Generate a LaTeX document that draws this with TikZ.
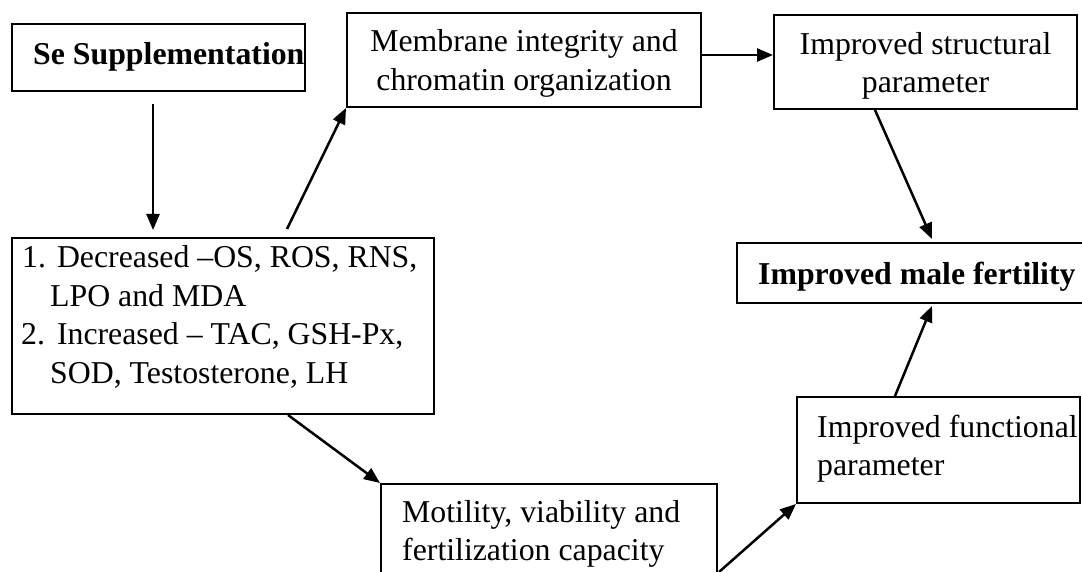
\documentclass[tikz,border=0pt]{standalone}
\usepackage{fontspec}
\setmainfont{Liberation Serif}
\usetikzlibrary{arrows.meta,calc}
\tikzset{
  box/.style={draw, line width=2pt, inner sep=0pt},
  txt/.style={inner sep=0pt, font=\fontsize{31.8}{38.5}\selectfont},
  conn/.style={line width=2.5pt, -{Triangle[length=16pt,width=13pt]}}
}
\begin{document}
\begin{tikzpicture}[x=1pt,y=1pt]
\useasboundingbox (0,0) rectangle (1082,-572);
% boxes
\node[box, minimum width=293pt, minimum height=67pt] (se) at (158.5,-57.5) {};
\node[box, minimum width=354pt, minimum height=94pt] (mem) at (524,-60) {};
\node[box, minimum width=303pt, minimum height=94pt] (str) at (925.5,-62) {};
\node[box, minimum width=357pt, minimum height=60pt] (fer) at (915.5,-273) {};
\node[box, minimum width=422pt, minimum height=176pt] (dec) at (223,-326) {};
\node[box, minimum width=336pt, minimum height=116pt] (mot) at (549,-542) {};
\node[box, minimum width=283pt, minimum height=106pt] (fun) at (938.5,-450) {};
% texts
\node[txt, anchor=base west] (set) at (33,-65) {\textbf{Se Supplementation}};
\node[txt, anchor=base] (mem1) at (524,-52) {Membrane integrity and};
\node[txt, anchor=base] (mem2) at (524,-91) {chromatin organization};
\node[txt, anchor=base] (str1) at (925.5,-55) {Improved structural};
\node[txt, anchor=base] (str2) at (925.5,-93) {parameter};
\node[txt, anchor=base west] (fert) at (758,-284) {\textbf{Improved male fertility}};
\node[txt, anchor=base west] (dec1) at (22,-268) {1.\hspace{11pt}Decreased –OS, ROS, RNS,};
\node[txt, anchor=base west] (dec2) at (50,-306) {LPO and MDA};
\node[txt, anchor=base west] (dec3) at (21,-344) {2.\hspace{12pt}Increased – TAC, GSH-Px,};
\node[txt, anchor=base west] (dec4) at (50,-383) {SOD, Testosterone, LH};
\node[txt, anchor=base west] (mot1) at (402,-522) {Motility, viability and};
\node[txt, anchor=base west] (mot2) at (402,-560) {fertilization capacity};
\node[txt, anchor=base west] (fun1) at (817,-437) {Improved functional};
\node[txt, anchor=base west] (fun2) at (817,-475) {parameter};
% connectors
\draw[conn] ($(se.south)+(-5.5,-12)$) -- ($(dec.north)+(-70,7)$);
\draw[conn] ($(dec.north west)+(276,8)$) -- (mem.south west);
\draw[conn] ($(mem.east)+(0,5)$) -- ($(str.west)+(0,7)$);
\draw[conn] ($(str.south)+(-50.5,0)$) -- ($(fer.north)+(16.5,3)$);
\draw[conn] ($(fun.north)+(-43.5,0)$) -- ($(fer.south)+(16.5,-2)$);
\draw[conn] ($(dec.south)+(65,0)$) -- (mot.north west);
\draw[conn] ($(mot.east)+(1,-30)$) -- (fun.south west);
\end{tikzpicture}
\end{document}
